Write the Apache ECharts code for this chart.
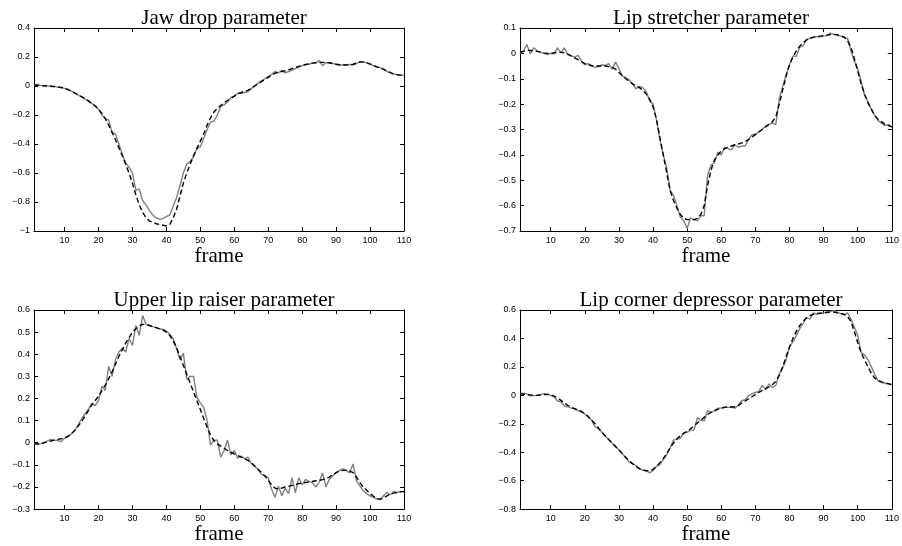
<!DOCTYPE html>
<html>
<head>
<meta charset="utf-8">
<title>Facial parameters</title>
<script src="https://cdn.jsdelivr.net/npm/echarts@6/dist/echarts.min.js"></script>
<style>
  html, body { margin: 0; padding: 0; background: #fff; }
  #main { width: 902px; height: 546px; }
</style>
</head>
<body>
<div id="main"></div>
<script>
// titles of the four panels
const titles = ['Jaw drop parameter', 'Lip stretcher parameter', 'Upper lip raiser parameter', 'Lip corner depressor parameter'];
const xTicks = [10, 20, 30, 40, 50, 60, 70, 80, 90, 100, 110];
const yRanges = [[-1, 0.4, 0.2], [-0.7, 0.1, 0.1], [-0.3, 0.6, 0.1], [-0.8, 0.6, 0.2]];

// jaw drop: measured (gray) and fitted (dashed), frames 1..110
const jawMeasured = [
  0.008, 0.01, 0.004, 0.002, 0.001, -0.002, -0.004, -0.008, -0.011, -0.016,
  -0.024, -0.036, -0.05, -0.062, -0.075, -0.09, -0.1, -0.12, -0.135, -0.16,
  -0.2, -0.225, -0.235, -0.32, -0.33, -0.4, -0.47, -0.53, -0.56, -0.6,
  -0.72, -0.71, -0.79, -0.82, -0.86, -0.89, -0.91, -0.92, -0.915, -0.9,
  -0.89, -0.83, -0.77, -0.69, -0.6, -0.54, -0.52, -0.49, -0.43, -0.42,
  -0.36, -0.3, -0.25, -0.24, -0.2, -0.14, -0.13, -0.11, -0.08, -0.07,
  -0.05, -0.05, -0.045, -0.04, -0.02, 0.0, 0.02, 0.035, 0.05, 0.065,
  0.08, 0.1, 0.09, 0.108, 0.09, 0.1, 0.11, 0.12, 0.13, 0.14,
  0.148, 0.15, 0.158, 0.16, 0.175, 0.14, 0.162, 0.16, 0.155, 0.15,
  0.145, 0.145, 0.146, 0.148, 0.145, 0.155, 0.168, 0.168, 0.16, 0.15,
  0.14, 0.13, 0.127, 0.115, 0.1, 0.09, 0.082, 0.078, 0.076, 0.072
];
const jawFitted = [
  0.005, 0.005, 0.003, 0.002, 0.0, -0.002, -0.004, -0.007, -0.01, -0.015,
  -0.025, -0.035, -0.048, -0.06, -0.073, -0.088, -0.103, -0.12, -0.138, -0.16,
  -0.19, -0.225, -0.27, -0.32, -0.37, -0.425, -0.48, -0.54, -0.6, -0.67,
  -0.75, -0.82, -0.87, -0.91, -0.93, -0.94, -0.95, -0.955, -0.96, -0.965,
  -0.955, -0.91, -0.85, -0.76, -0.67, -0.6, -0.54, -0.48, -0.43, -0.38,
  -0.33, -0.27, -0.22, -0.18, -0.155, -0.135, -0.115, -0.1, -0.085, -0.07,
  -0.055, -0.045, -0.038, -0.03, -0.015, 0.0, 0.015, 0.03, 0.045, 0.06,
  0.075, 0.088, 0.095, 0.1, 0.105, 0.112, 0.12, 0.128, 0.135, 0.142,
  0.148, 0.153, 0.158, 0.16, 0.163, 0.163, 0.162, 0.16, 0.155, 0.15,
  0.147, 0.145, 0.145, 0.146, 0.15, 0.158, 0.165, 0.165, 0.16, 0.152,
  0.142, 0.132, 0.125, 0.115, 0.103, 0.092, 0.083, 0.078, 0.075, 0.073
];

// lip stretcher
const stretchMeasured = [
  0.0, 0.01, 0.035, -0.002, 0.022, 0.01, 0.005, 0.0, -0.005, 0.0,
  -0.002, 0.022, 0.002, 0.022, -0.005, -0.01, -0.015, -0.008, -0.03, -0.045,
  -0.04, -0.05, -0.055, -0.052, -0.045, -0.048, -0.04, -0.062, -0.034, -0.06,
  -0.09, -0.095, -0.105, -0.12, -0.14, -0.13, -0.135, -0.15, -0.188, -0.2,
  -0.26, -0.34, -0.4, -0.45, -0.54, -0.56, -0.6, -0.645, -0.66, -0.69,
  -0.648, -0.655, -0.66, -0.64, -0.64, -0.48, -0.44, -0.43, -0.39, -0.4,
  -0.37, -0.375, -0.38, -0.36, -0.37, -0.365, -0.365, -0.34, -0.32, -0.318,
  -0.31, -0.3, -0.286, -0.28, -0.275, -0.28, -0.18, -0.13, -0.085, -0.045,
  -0.01, -0.012, 0.025, 0.03, 0.055, 0.058, 0.063, 0.066, 0.065, 0.068,
  0.07, 0.08, 0.075, 0.072, 0.068, 0.062, 0.06, 0.01, -0.03, -0.06,
  -0.11, -0.165, -0.19, -0.22, -0.245, -0.265, -0.275, -0.285, -0.28, -0.29
];
const stretchFitted = [
  0.005, 0.008, 0.012, 0.012, 0.01, 0.008, 0.005, 0.002, 0.0, 0.0,
  0.002, 0.004, 0.004, 0.002, -0.003, -0.01, -0.018, -0.025, -0.033, -0.04,
  -0.045, -0.048, -0.05, -0.05, -0.05, -0.05, -0.052, -0.055, -0.062, -0.075,
  -0.088, -0.1, -0.11, -0.12, -0.128, -0.135, -0.145, -0.16, -0.18, -0.21,
  -0.26, -0.33, -0.4, -0.47, -0.54, -0.58, -0.61, -0.635, -0.65, -0.655,
  -0.655, -0.655, -0.65, -0.635, -0.6, -0.52, -0.46, -0.42, -0.4, -0.385,
  -0.375, -0.37, -0.365, -0.36, -0.357, -0.353, -0.348, -0.34, -0.33, -0.32,
  -0.31, -0.3, -0.29, -0.28, -0.27, -0.25, -0.2, -0.145, -0.09, -0.045,
  -0.015, 0.01, 0.028, 0.042, 0.053, 0.06, 0.064, 0.066, 0.068, 0.07,
  0.072, 0.074, 0.075, 0.073, 0.07, 0.065, 0.05, 0.025, -0.02, -0.07,
  -0.12, -0.16, -0.195, -0.22, -0.245, -0.26, -0.27, -0.28, -0.285, -0.29
];

// upper lip raiser
const raiserMeasured = [
  -0.005, -0.008, -0.005, 0.002, 0.008, 0.015, 0.012, 0.01, 0.005, 0.02,
  0.027, 0.04, 0.057, 0.08, 0.108, 0.13, 0.15, 0.178, 0.168, 0.19,
  0.256, 0.236, 0.345, 0.3, 0.375, 0.41, 0.427, 0.41, 0.471, 0.44,
  0.53, 0.485, 0.575, 0.535, 0.53, 0.525, 0.52, 0.515, 0.512, 0.505,
  0.49, 0.47, 0.427, 0.375, 0.405, 0.286, 0.3, 0.3, 0.205, 0.18,
  0.16, 0.1, -0.01, 0.012, 0.012, -0.065, -0.035, 0.012, -0.055, -0.035,
  -0.07, -0.06, -0.072, -0.065, -0.093, -0.106, -0.12, -0.143, -0.15, -0.158,
  -0.21, -0.247, -0.197, -0.24, -0.205, -0.23, -0.158, -0.227, -0.158, -0.19,
  -0.165, -0.175, -0.18, -0.2, -0.18, -0.136, -0.2, -0.165, -0.15, -0.136,
  -0.125, -0.118, -0.125, -0.136, -0.096, -0.172, -0.195, -0.217, -0.23, -0.24,
  -0.247, -0.255, -0.257, -0.24, -0.225, -0.235, -0.22, -0.225, -0.22, -0.222
];
const raiserFitted = [
  -0.005, -0.005, -0.004, 0.0, 0.004, 0.008, 0.012, 0.015, 0.018, 0.022,
  0.03, 0.04, 0.055, 0.075, 0.095, 0.12, 0.145, 0.17, 0.19, 0.21,
  0.235, 0.26, 0.29, 0.32, 0.355, 0.39, 0.42, 0.45, 0.475, 0.5,
  0.515, 0.528, 0.535, 0.535, 0.53, 0.525, 0.52, 0.515, 0.51, 0.5,
  0.485, 0.46, 0.43, 0.39, 0.35, 0.31, 0.27, 0.23, 0.19, 0.15,
  0.11, 0.07, 0.035, 0.01, -0.005, -0.015, -0.025, -0.035, -0.043, -0.05,
  -0.058, -0.065, -0.072, -0.08, -0.09, -0.105, -0.12, -0.135, -0.15, -0.17,
  -0.19, -0.205, -0.21, -0.205, -0.2, -0.197, -0.193, -0.19, -0.185, -0.182,
  -0.18, -0.178, -0.175, -0.172, -0.17, -0.167, -0.162, -0.155, -0.145, -0.135,
  -0.128, -0.125, -0.125, -0.128, -0.135, -0.155, -0.18, -0.2, -0.215, -0.23,
  -0.242, -0.252, -0.255, -0.25, -0.24, -0.232, -0.228, -0.225, -0.222, -0.22
];

// lip corner depressor
const cornerMeasured = [
  0.012, 0.015, 0.01, -0.002, -0.002, 0.0, 0.005, 0.012, 0.01, 0.0,
  -0.01, -0.04, -0.045, -0.075, -0.08, -0.09, -0.095, -0.108, -0.11, -0.131,
  -0.15, -0.176, -0.22, -0.234, -0.26, -0.287, -0.31, -0.337, -0.36, -0.383,
  -0.41, -0.441, -0.47, -0.482, -0.495, -0.515, -0.527, -0.53, -0.545, -0.53,
  -0.5, -0.487, -0.45, -0.418, -0.37, -0.314, -0.31, -0.303, -0.263, -0.26,
  -0.245, -0.245, -0.158, -0.176, -0.18, -0.107, -0.12, -0.11, -0.09, -0.09,
  -0.082, -0.085, -0.085, -0.09, -0.07, -0.038, -0.03, -0.003, 0.01, 0.02,
  0.027, 0.07, 0.04, 0.08, 0.055, 0.07, 0.15, 0.193, 0.25, 0.34,
  0.376, 0.42, 0.469, 0.503, 0.549, 0.535, 0.58, 0.57, 0.576, 0.58,
  0.588, 0.59, 0.595, 0.585, 0.575, 0.565, 0.58, 0.538, 0.48, 0.422,
  0.3, 0.284, 0.25, 0.2, 0.146, 0.1, 0.09, 0.085, 0.08, 0.072
];
const cornerFitted = [
  0.01, 0.008, 0.005, 0.002, 0.0, 0.0, 0.002, 0.005, 0.006, 0.004,
  -0.005, -0.018, -0.035, -0.055, -0.07, -0.083, -0.093, -0.103, -0.115, -0.13,
  -0.15, -0.175, -0.2, -0.23, -0.26, -0.285, -0.31, -0.335, -0.36, -0.385,
  -0.41, -0.435, -0.46, -0.48, -0.5, -0.515, -0.525, -0.53, -0.53, -0.52,
  -0.5, -0.475, -0.445, -0.41, -0.37, -0.335, -0.305, -0.285, -0.268, -0.252,
  -0.235, -0.215, -0.195, -0.175, -0.155, -0.135, -0.12, -0.108, -0.098, -0.09,
  -0.085, -0.082, -0.082, -0.08, -0.07, -0.055, -0.04, -0.025, -0.01, 0.005,
  0.02, 0.035, 0.048, 0.06, 0.075, 0.1, 0.14, 0.2, 0.27, 0.34,
  0.4, 0.45, 0.49, 0.52, 0.545, 0.56, 0.57, 0.575, 0.578, 0.58,
  0.582, 0.585, 0.585, 0.58, 0.575, 0.57, 0.555, 0.52, 0.45, 0.37,
  0.3, 0.25, 0.2, 0.155, 0.12, 0.105, 0.095, 0.088, 0.082, 0.075
];

const measured = [jawMeasured, stretchMeasured, raiserMeasured, cornerMeasured];
const fitted = [jawFitted, stretchFitted, raiserFitted, cornerFitted];

// plot boxes in pixels
const boxes = [
  { left: 34, top: 28, width: 370, height: 203 },
  { left: 520, top: 28, width: 372, height: 203 },
  { left: 34, top: 310, width: 370, height: 203 },
  { left: 520, top: 310, width: 372, height: 203 }
];

const tickFont = { fontFamily: 'Liberation Sans', fontSize: 9, color: '#000' };
const serif = 'Liberation Serif';

function fmt(v) {
  const s = String(parseFloat(v.toFixed(2)));
  return s.replace('-', '\u2212');
}

function toPairs(arr) {
  return arr.map((v, i) => [i + 1, v]);
}

const grid = [], xAxis = [], yAxis = [], series = [], title = [];

boxes.forEach((b, i) => {
  grid.push(Object.assign({ containLabel: false }, b));
  title.push({
    text: titles[i],
    left: b.left + b.width / 2,
    top: b.top - 25,
    textAlign: 'center',
    textStyle: { fontFamily: serif, fontSize: 21, fontWeight: 'normal', color: '#000' }
  });
  const line = { show: true, onZero: false, lineStyle: { color: '#000', width: 1 } };
  const tick = { show: true, inside: true, length: 4, customValues: xTicks, lineStyle: { color: '#000' } };
  xAxis.push({
    type: 'value', gridIndex: i, position: 'bottom', min: 1, max: 110,
    axisLine: line, axisTick: tick, splitLine: { show: false },
    axisLabel: Object.assign({ customValues: xTicks, margin: 5 }, tickFont),
    name: 'frame', nameLocation: 'middle', nameGap: 12,
    nameTextStyle: { fontFamily: serif, fontSize: 21, color: '#000' }
  });
  xAxis.push({
    type: 'value', gridIndex: i, position: 'top', min: 1, max: 110,
    axisLine: line, axisTick: tick, axisLabel: { show: false }, splitLine: { show: false }
  });
  const r = yRanges[i];
  const ytick = { show: true, inside: true, length: 4, lineStyle: { color: '#000' } };
  yAxis.push({
    type: 'value', gridIndex: i, position: 'left', min: r[0], max: r[1], interval: r[2],
    axisLine: line, axisTick: ytick, splitLine: { show: false },
    axisLabel: Object.assign({ formatter: fmt, margin: 4 }, tickFont)
  });
  yAxis.push({
    type: 'value', gridIndex: i, position: 'right', min: r[0], max: r[1], interval: r[2],
    axisLine: line, axisTick: ytick, axisLabel: { show: false }, splitLine: { show: false }
  });
  series.push({
    type: 'line', xAxisIndex: 2 * i, yAxisIndex: 2 * i,
    data: toPairs(measured[i]), showSymbol: false, symbol: 'none',
    lineStyle: { color: '#808080', width: 1.4 }
  });
  series.push({
    type: 'line', xAxisIndex: 2 * i, yAxisIndex: 2 * i,
    data: toPairs(fitted[i]), showSymbol: false, symbol: 'none',
    lineStyle: { color: '#000', width: 1.4, type: [5, 3] }
  });
});

const chart = echarts.init(document.getElementById('main'));
chart.setOption({
  animation: false,
  backgroundColor: '#fff',
  title: title,
  grid: grid,
  xAxis: xAxis,
  yAxis: yAxis,
  series: series
});
</script>
</body>
</html>
